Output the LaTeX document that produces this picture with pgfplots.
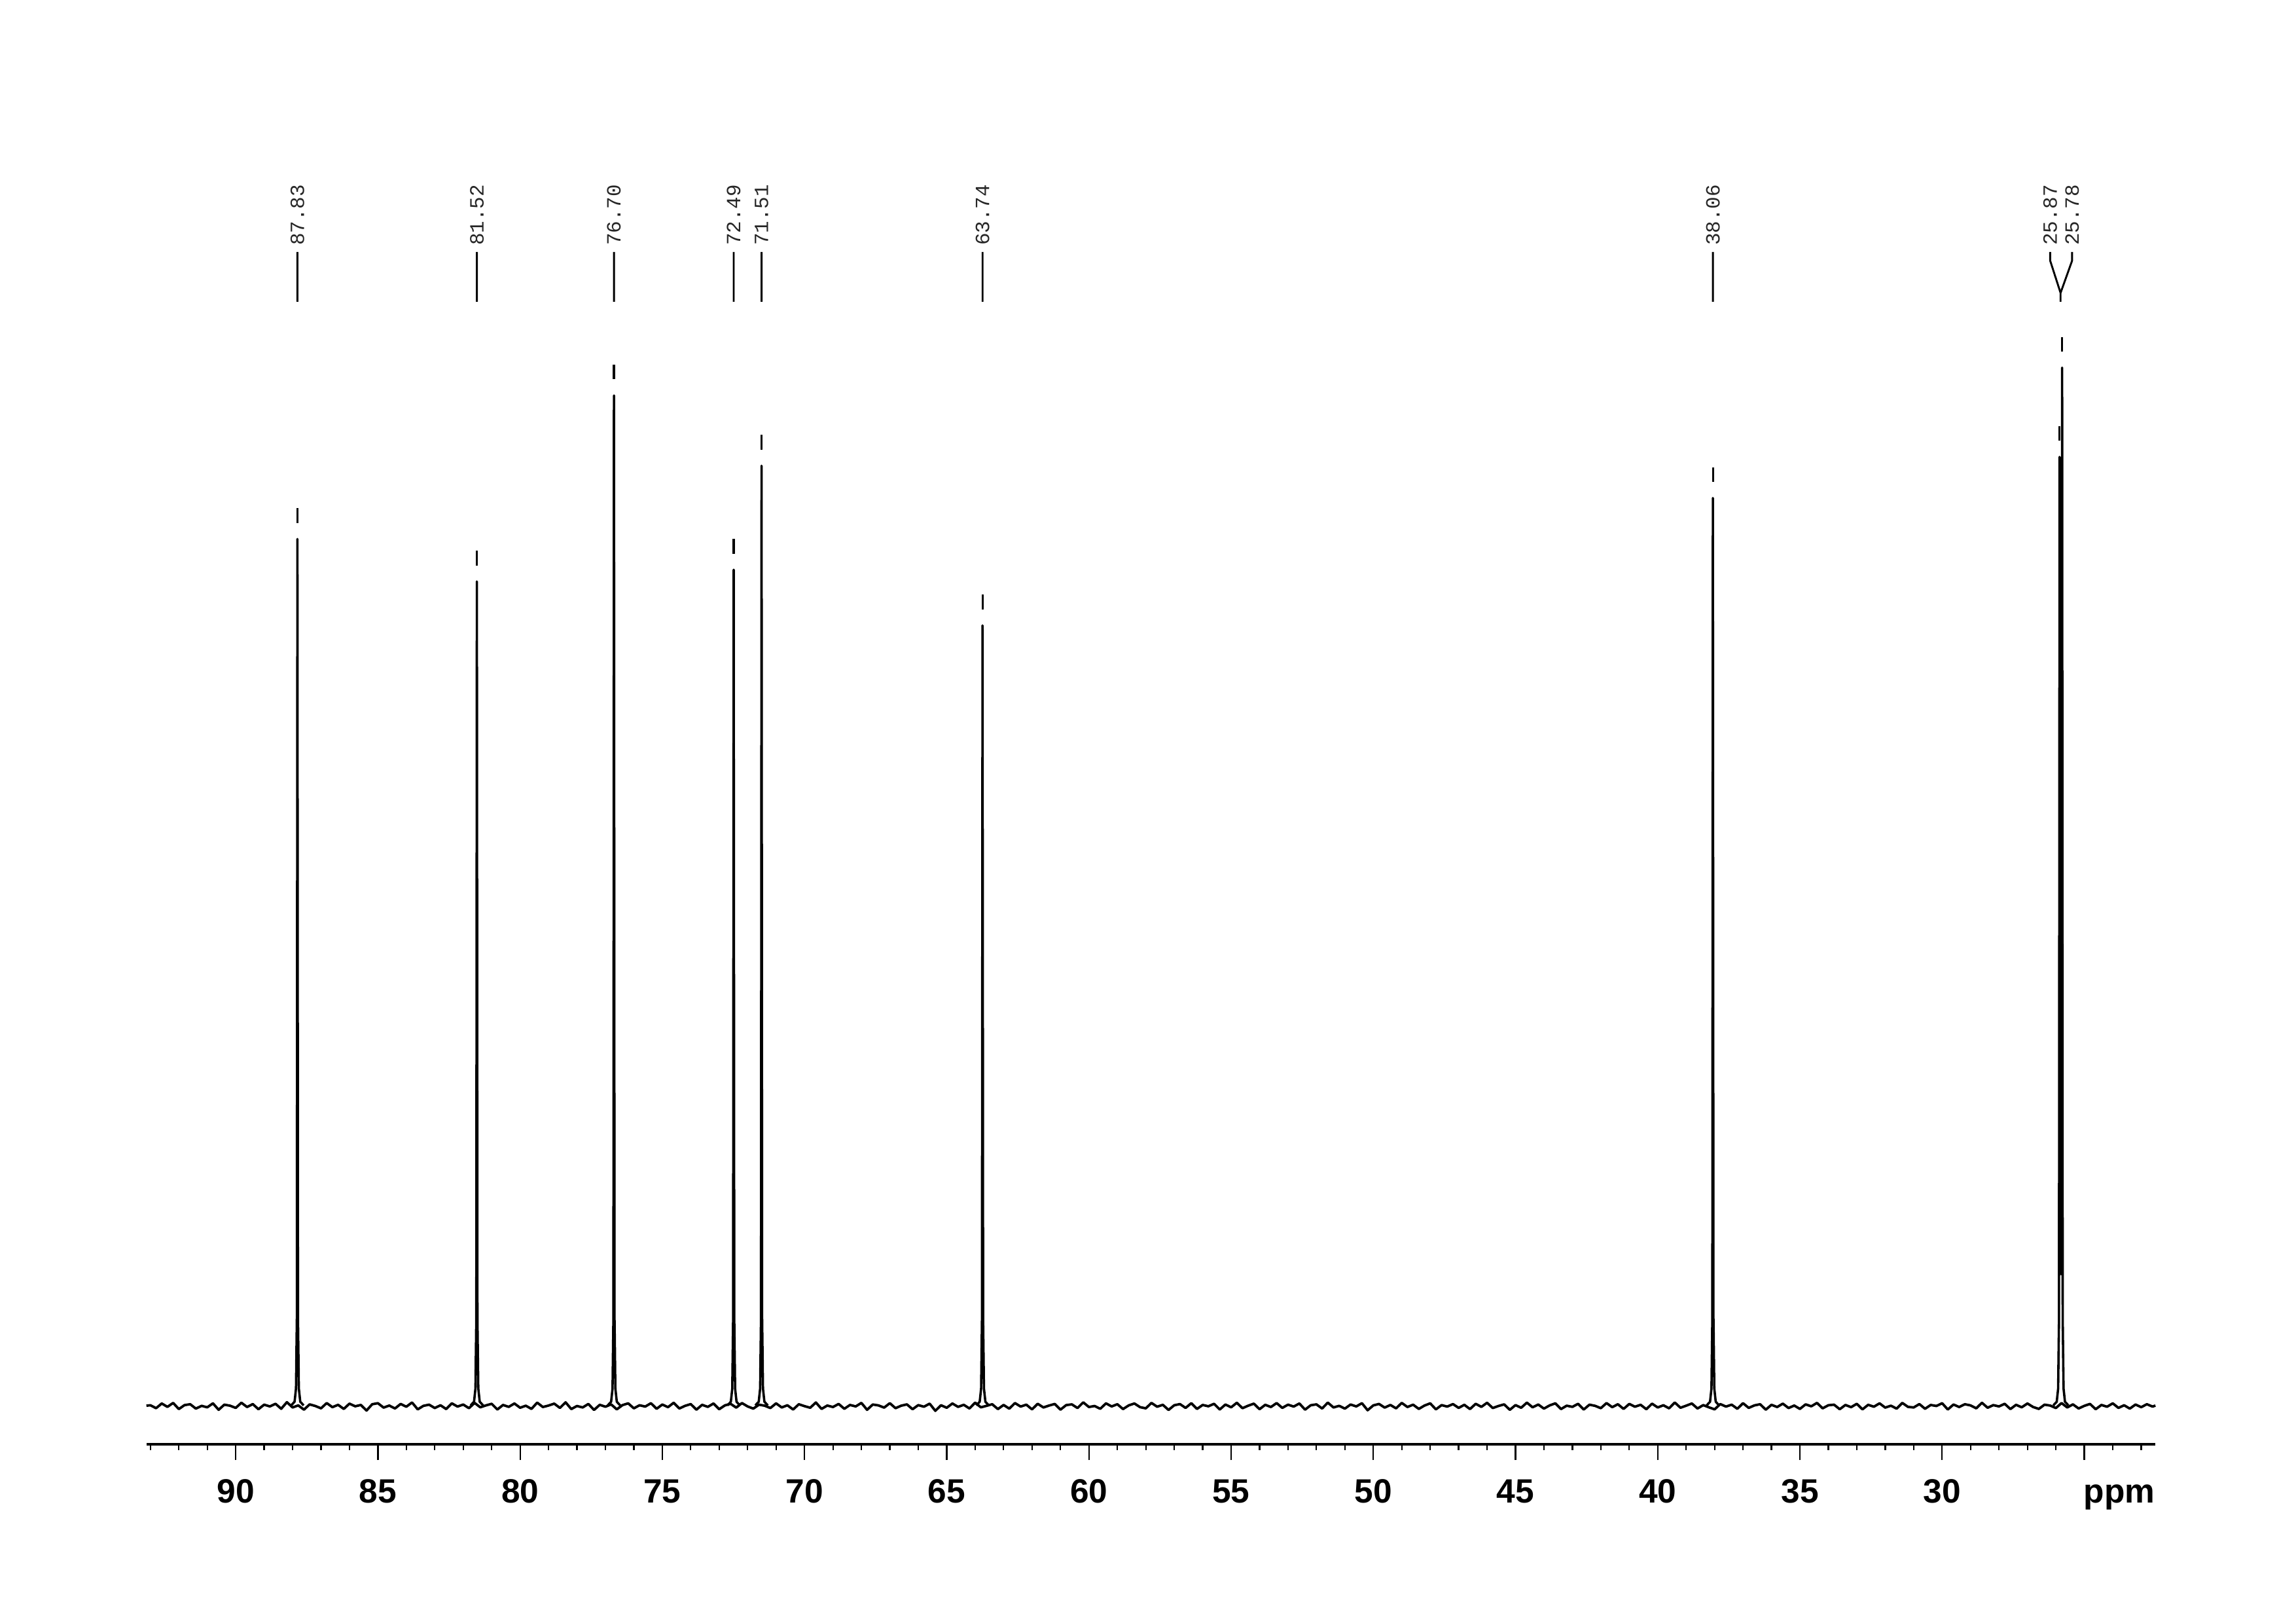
\documentclass[border=0pt]{standalone}
\usepackage{fontspec}
\setmainfont{Liberation Sans}
\newfontfamily\labelmono{Liberation Mono}
\usepackage{pgfplots}
\pgfplotsset{compat=1.18}
\usepackage{pgfplotstable}

\pgfplotstableread{
x lab
87.83 87.83
81.52 81.52
76.70 76.70
72.49 72.49
71.51 71.51
63.74 63.74
38.06 38.06
26.20 25.87
25.43 25.78
}\peaklabels

\begin{document}
\begin{tikzpicture}
\path[use as bounding box] (-50pt,-61pt) rectangle (734pt,493pt);
\begin{axis}[
  at={(0pt,0pt)}, anchor=south west,
  scale only axis, width=686pt, height=443pt,
  xmin=22.5, xmax=93.14, x dir=reverse,
  ymin=-26, ymax=860,
  axis x line*=bottom, axis y line=none,
  axis line style={line width=0.8pt, black},
  xtick={25,30,35,40,45,50,55,60,65,70,75,80,85,90},
  xticklabels={,30,35,40,45,50,55,60,65,70,75,80,85,90},
  minor xtick={23,24,...,93},
  tick align=outside,
  major tick length=5.4pt, minor tick length=2pt,
  tick style={line width=0.5pt, black},
  xticklabel style={font=\bfseries\fontsize{11.5}{13}\selectfont, anchor=base, yshift=-14.6pt},
  clip=false,
  unbounded coords=jump,
]
% baseline noise
\addplot[black, line width=0.85pt, line join=round] coordinates {
(93.14,0.3)
(93.0,0.6)(92.8,-1.4)(92.6,1.8)(92.4,-0.5)(92.2,2.2)(92.0,-2.0)(91.8,0.7)(91.6,1.3)(91.4,-1.7)(91.2,0.2)
(91.0,-0.8)(90.8,1.9)(90.6,-2.5)(90.4,1.0)(90.2,0.3)(90.0,-1.2)(89.8,2.3)(89.6,-0.6)(89.4,1.4)(89.2,-2.1)
(89.0,1.0)(88.8,-0.2)(88.6,1.6)(88.4,-1.8)(88.2,2.7)(88.0,-0.9)(87.8,0.5)(87.6,-2.4)(87.4,1.2)(87.2,0.1)
(87.0,-1.5)(86.8,2.1)(86.6,-0.7)(86.4,0.9)(86.2,-1.9)(86.0,1.7)(85.8,-0.1)(85.6,0.8)(85.4,-3.0)(85.2,1.3)
(85.0,2.0)(84.8,-1.0)(84.6,0.4)(84.4,-1.6)(84.2,1.5)(84.0,-0.4)(83.8,2.5)(83.6,-2.2)(83.4,0.2)(83.2,1.0)
(83.0,-1.3)(82.8,0.6)(82.6,-2.0)(82.4,1.9)(82.2,-0.3)(82.0,1.1)(81.8,-1.4)(81.6,2.2)(81.4,-0.8)(81.2,0.5)
(81.0,1.6)(80.8,-2.3)(80.6,0.8)(80.4,-0.5)(80.2,1.8)(80.0,-1.1)(79.8,0.3)(79.6,-1.9)(79.4,2.4)(79.2,-0.6)
(79.0,0.4)(78.8,1.7)(78.6,-1.2)(78.4,2.6)(78.2,-2.0)(78.0,0.1)(77.8,-0.9)(77.6,1.5)(77.4,-2.6)(77.2,0.9)
(77.0,-0.4)(76.8,1.2)(76.6,-2.2)(76.4,0.7)(76.2,1.9)(76.0,-1.5)(75.8,0.6)(75.6,-0.3)(75.4,2.0)(75.2,-1.8)
(75.0,1.1)(74.8,-0.7)(74.6,2.3)(74.4,-1.6)(74.2,0.2)(74.0,1.4)(73.8,-2.4)(73.6,0.9)(73.4,-0.5)(73.2,1.8)
(73.0,-2.1)(72.8,0.5)(72.6,1.6)(72.4,-1.0)(72.2,2.1)(72.0,-0.2)(71.8,-1.7)(71.6,1.0)(71.4,0.3)(71.2,-1.3)
(71.0,1.9)(70.8,-0.9)(70.6,0.6)(70.4,-2.3)(70.2,1.3)(70.0,0.0)(69.8,-1.1)(69.6,2.5)(69.4,-1.9)(69.2,0.4)
(69.0,-0.6)(68.8,1.5)(68.6,-1.8)(68.4,0.8)(68.2,-0.2)(68.0,2.2)(67.8,-2.5)(67.6,1.1)(67.4,0.5)(67.2,-1.0)
(67.0,2.0)(66.8,-1.4)(66.6,0.3)(66.4,1.2)(66.2,-2.1)(66.0,0.7)(65.8,-0.4)(65.6,1.7)(65.4,-3.2)(65.2,0.6)
(65.0,-1.1)(64.8,1.8)(64.6,-0.5)(64.4,0.9)(64.2,-1.6)(64.0,2.4)(63.8,-0.8)(63.6,0.2)(63.4,1.3)(63.2,-2.0)
(63.0,0.8)(62.8,-1.7)(62.6,2.1)(62.4,-0.3)(62.2,1.0)(62.0,-2.2)(61.8,1.6)(61.6,-0.9)(61.4,0.4)(61.2,1.5)
(61.0,-2.4)(60.8,0.7)(60.6,1.2)(60.4,-1.3)(60.2,2.6)(60.0,-0.6)(59.8,0.1)(59.6,-1.8)(59.4,1.9)(59.2,-0.2)
(59.0,1.3)(58.8,-2.0)(58.6,0.5)(58.4,1.8)(58.2,-0.7)(58.0,-1.5)(57.8,2.2)(57.6,-0.4)(57.4,0.9)(57.2,-2.6)
(57.0,0.6)(56.8,1.4)(56.6,-1.2)(56.4,2.0)(56.2,-1.9)(56.0,0.8)(55.8,-0.1)(55.6,1.6)(55.4,-2.3)(55.2,1.1)
(55.0,-0.8)(54.8,2.3)(54.6,-1.4)(54.4,0.3)(54.2,1.7)(54.0,-2.1)(53.8,0.9)(53.6,-0.6)(53.4,2.1)(53.2,-1.2)
(53.0,1.0)(52.8,-0.3)(52.6,1.8)(52.4,-2.4)(52.2,0.6)(52.0,1.2)(51.8,-1.6)(51.6,2.4)(51.4,-0.9)(51.2,0.2)
(51.0,-1.7)(50.8,1.1)(50.6,-0.2)(50.4,2.0)(50.2,-2.8)(50.0,0.5)(49.8,1.5)(49.6,-1.0)(49.4,0.8)(49.2,-1.5)
(49.0,2.2)(48.8,-0.6)(48.6,1.0)(48.4,-1.9)(48.2,0.4)(48.0,1.9)(47.8,-2.2)(47.6,0.7)(47.4,-0.3)(47.2,1.4)
(47.0,-1.2)(46.8,0.9)(46.6,-2.0)(46.4,1.6)(46.2,-0.5)(46.0,2.3)(45.8,-1.3)(45.6,0.1)(45.4,1.2)(45.2,-2.5)
(45.0,0.7)(44.8,-1.1)(44.6,2.4)(44.4,-0.8)(44.2,1.1)(44.0,-1.7)(43.8,0.5)(43.6,1.9)(43.4,-2.0)(43.2,0.3)
(43.0,-0.5)(42.8,1.6)(42.6,-2.3)(42.4,1.0)(42.2,0.2)(42.0,-1.4)(41.8,2.1)(41.6,-0.7)(41.4,1.3)(41.2,-1.9)
(41.0,1.5)(40.8,-0.4)(40.6,0.9)(40.4,-2.1)(40.2,1.7)(40.0,-0.9)(39.8,0.6)(39.6,-1.5)(39.4,2.5)(39.2,-1.1)
(39.0,0.3)(38.8,1.8)(38.6,-1.6)(38.4,0.7)(38.2,-0.8)(38.0,-2.2)(37.8,1.4)(37.6,-0.3)(37.4,1.0)(37.2,-1.8)
(37.0,2.0)(36.8,-1.2)(36.6,0.5)(36.4,1.3)(36.2,-2.4)(36.0,0.9)(35.8,-0.6)(35.6,1.7)(35.4,-1.3)(35.2,0.4)
(35.0,-1.9)(34.8,1.2)(34.6,-0.1)(34.4,2.2)(34.2,-1.5)(34.0,0.6)(33.8,1.0)(33.6,-2.1)(33.4,0.8)(33.2,-0.7)
(33.0,1.6)(32.8,-2.2)(32.6,0.9)(32.4,-0.4)(32.2,1.9)(32.0,-1.0)(31.8,0.3)(31.6,-1.7)(31.4,2.2)(31.2,-0.5)
(31.0,-0.9)(30.8,1.4)(30.6,-1.8)(30.4,0.8)(30.2,0.1)(30.0,2.0)(29.8,-2.3)(29.6,1.1)(29.4,-0.6)(29.2,1.3)
(29.0,0.5)(28.8,-1.5)(28.6,2.3)(28.4,-1.1)(28.2,0.7)(28.0,-0.2)(27.8,1.6)(27.6,-2.0)(27.4,0.9)(27.2,-0.8)
(27.0,1.8)(26.8,-0.6)(26.6,-1.9)(26.4,1.0)(26.2,0.4)(26.0,-1.3)(25.8,2.1)(25.6,-0.9)(25.4,1.2)(25.2,-1.6)
(25.0,0.2)(24.8,1.5)(24.6,-2.1)(24.4,0.8)(24.2,-0.4)(24.0,1.9)(23.8,-1.2)(23.6,0.6)(23.4,-1.7)(23.2,1.1)
(23.0,-0.7)(22.8,1.3)(22.6,-0.3)(22.5,0.4)
};
% peaks
\addplot[black, line width=0.8pt, line join=round] coordinates {
(88.05,0.5)(87.93,3)(87.88,12)(87.85,60)(87.83,592)(87.81,60)(87.78,12)(87.73,3)(87.61,0.5)
(87.6,nan)
(81.74,0.5)(81.62,3)(81.57,12)(81.54,60)(81.52,563)(81.50,60)(81.47,12)(81.42,3)(81.30,0.5)
(81.3,nan)
(76.92,0.5)(76.80,3)(76.75,12)(76.72,60)(76.70,690)(76.68,60)(76.65,12)(76.60,3)(76.48,0.5)
(76.4,nan)
(72.71,0.5)(72.59,3)(72.54,12)(72.51,60)(72.49,571)(72.47,60)(72.44,12)(72.39,3)(72.27,0.5)
(72.2,nan)
(71.73,0.5)(71.61,3)(71.56,12)(71.53,60)(71.51,642)(71.49,60)(71.46,12)(71.41,3)(71.29,0.5)
(71.2,nan)
(63.96,0.5)(63.84,3)(63.79,12)(63.76,60)(63.74,533)(63.72,60)(63.69,12)(63.64,3)(63.52,0.5)
(63.5,nan)
(38.28,0.5)(38.16,3)(38.11,12)(38.08,60)(38.06,620)(38.04,60)(38.01,12)(37.96,3)(37.84,0.5)
(37.8,nan)
(26.09,0.5)(25.97,3)(25.92,12)(25.89,60)(25.87,648)(25.85,90)(25.825,140)(25.80,90)(25.78,709)(25.76,60)(25.73,12)(25.68,3)(25.56,0.5)
};
% peak-pick markers
\addplot[black, line width=0.7pt] coordinates {
(87.83,603)(87.83,613)(87.83,nan)
(81.52,574)(81.52,584)(81.52,nan)
(76.70,701)(76.70,711)(76.70,nan)
(72.49,582)(72.49,592)(72.49,nan)
(71.51,653)(71.51,663)(71.51,nan)
(63.74,544)(63.74,554)(63.74,nan)
(38.06,631)(38.06,641)(38.06,nan)
(25.87,659)(25.87,669)(25.87,nan)
(25.78,720)(25.78,730)
};
% label leader lines
\addplot[black, line width=0.65pt, line join=round] coordinates {
(87.83,754)(87.83,788)(87.83,nan)
(81.52,754)(81.52,788)(81.52,nan)
(76.70,754)(76.70,788)(76.70,nan)
(72.49,754)(72.49,788)(72.49,nan)
(71.51,754)(71.51,788)(71.51,nan)
(63.74,754)(63.74,788)(63.74,nan)
(38.06,754)(38.06,788)(38.06,nan)
(26.20,788)(26.20,782)(25.835,760)(25.43,782)(25.43,788)(25.43,nan)
(25.835,754)(25.835,760)
};
% peak labels
\addplot[draw=none, mark=none,
  nodes near coords, point meta=explicit symbolic,
  nodes near coords style={rotate=90, anchor=west, inner sep=0pt,
    font=\labelmono\fontsize{6.9}{8}\selectfont, black!85}]
  table[x=x, y expr=792, meta=lab] {\peaklabels};
\node[anchor=base east, inner sep=0pt, yshift=-20pt,
  font=\bfseries\fontsize{11.5}{13}\selectfont] at (rel axis cs:1,0) {ppm};
\end{axis}
\end{tikzpicture}
\end{document}
